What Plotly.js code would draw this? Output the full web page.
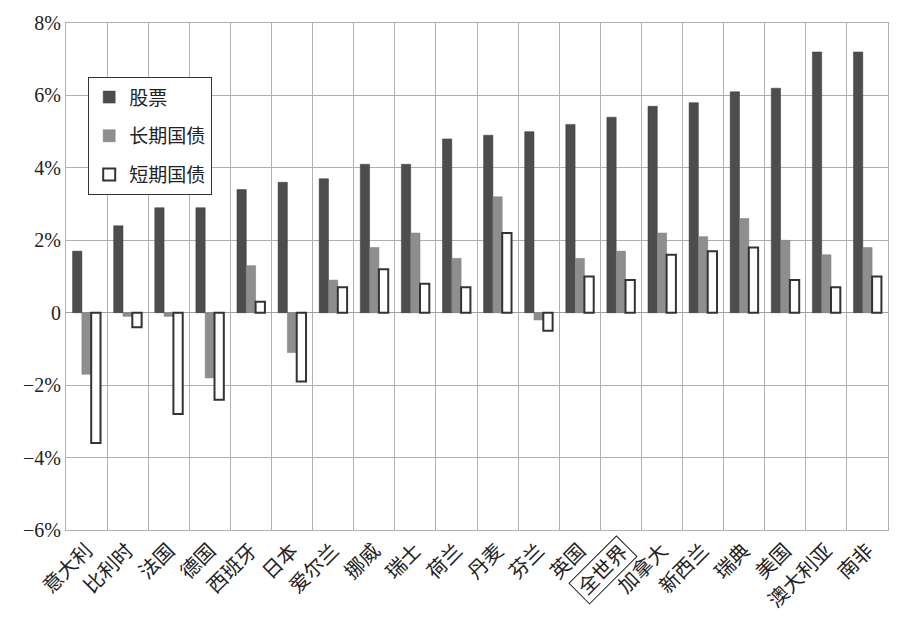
<!DOCTYPE html>
<html>
<head>
<meta charset="utf-8">
<script src="https://cdn.plot.ly/plotly-3.0.1.min.js"></script>
<style>html,body{margin:0;padding:0;background:#fff;}#chart{width:901px;height:622px;}</style>
</head>
<body>
<div id="chart"></div>
<script>
const categories = ["意大利","比利时","法国","德国","西班牙","日本","爱尔兰","挪威","瑞士","荷兰","丹麦","芬兰","英国","全世界","加拿大","新西兰","瑞典","美国","澳大利亚","南非"];
const equities   = [1.7, 2.4, 2.9, 2.9, 3.4, 3.6, 3.7, 4.1, 4.1, 4.8, 4.9, 5.0, 5.2, 5.4, 5.7, 5.8, 6.1, 6.2, 7.2, 7.2];
const longBonds  = [-1.7, -0.1, -0.1, -1.8, 1.3, -1.1, 0.9, 1.8, 2.2, 1.5, 3.2, -0.2, 1.5, 1.7, 2.2, 2.1, 2.6, 2.0, 1.6, 1.8];
const shortBills = [-3.6, -0.4, -2.8, -2.4, 0.3, -1.9, 0.7, 1.2, 0.8, 0.7, 2.2, -0.5, 1.0, 0.9, 1.6, 1.7, 1.8, 0.9, 0.7, 1.0];
const seriesNames = ["股票","长期国债","短期国债"];
const yTickVals = [-6,-4,-2,0,2,4,6,8];
const yTickText = ["−6%","−4%","−2%","0","2%","4%","6%","8%"];
const boxedCategory = "全世界";

const FONT = "Liberation Serif, Noto Sans CJK SC, serif";
const tickText = categories.map(c => c === boxedCategory ? "" : c);

const traces = [
  {type:"bar", name:seriesNames[0], legendgroup:"a", x:categories, y:equities,
   marker:{color:"#4d4d4d", line:{color:"#3a3a3a", width:0.5}}},
  {type:"bar", name:seriesNames[1], legendgroup:"b", x:categories, y:longBonds,
   marker:{color:"#8e8e8e", line:{color:"#7a7a7a", width:0.5}}},
  {type:"bar", name:seriesNames[2], legendgroup:"c", x:categories, y:shortBills,
   marker:{color:"#ffffff", line:{color:"#333333", width:2}}}
];

const layout = {
  width:901, height:622,
  margin:{l:66, r:13, t:23, b:92},
  paper_bgcolor:"#fff", plot_bgcolor:"#fff",
  font:{family:FONT, color:"#222", size:18},
  barmode:"group", bargap:0.32, bargroupgap:0,
  showlegend:true,
  legend:{x:0.027, y:0.893, xanchor:"left", yanchor:"top", traceorder:"grouped",
          bordercolor:"#333", borderwidth:1, bgcolor:"#fff",
          font:{family:FONT, size:19, color:"#222"}, tracegroupgap:11, itemwidth:30},
  xaxis:{type:"category", tickmode:"array", tickvals:categories, ticktext:tickText,
         tickangle:-45, tickson:"boundaries", showgrid:true, gridcolor:"#b0b0b0", gridwidth:1,
         ticks:"", showline:true, linecolor:"#b0b0b0", mirror:true,
         tickfont:{family:FONT, size:20, color:"#222"}, fixedrange:true},
  yaxis:{range:[-6,8], tickmode:"array", tickvals:yTickVals, ticktext:yTickText,
         showgrid:true, gridcolor:"#b0b0b0", gridwidth:1, zeroline:true, zerolinecolor:"#a0a0a0", zerolinewidth:1,
         showline:true, linecolor:"#b0b0b0", mirror:true, ticks:"",
         tickfont:{family:FONT, size:20, color:"#222"}, fixedrange:true},
  annotations:[{
    x:boxedCategory, xref:"x", y:0, yref:"paper",
    text:boxedCategory, showarrow:false, textangle:-45,
    xanchor:"center", yanchor:"middle", xshift:-18, yshift:-40,
    bordercolor:"#222", borderwidth:1, borderpad:3, bgcolor:"#fff",
    font:{family:FONT, size:20, color:"#222"}
  }]
};

Plotly.newPlot("chart", traces, layout, {staticPlot:true, displayModeBar:false});
</script>
</body>
</html>
